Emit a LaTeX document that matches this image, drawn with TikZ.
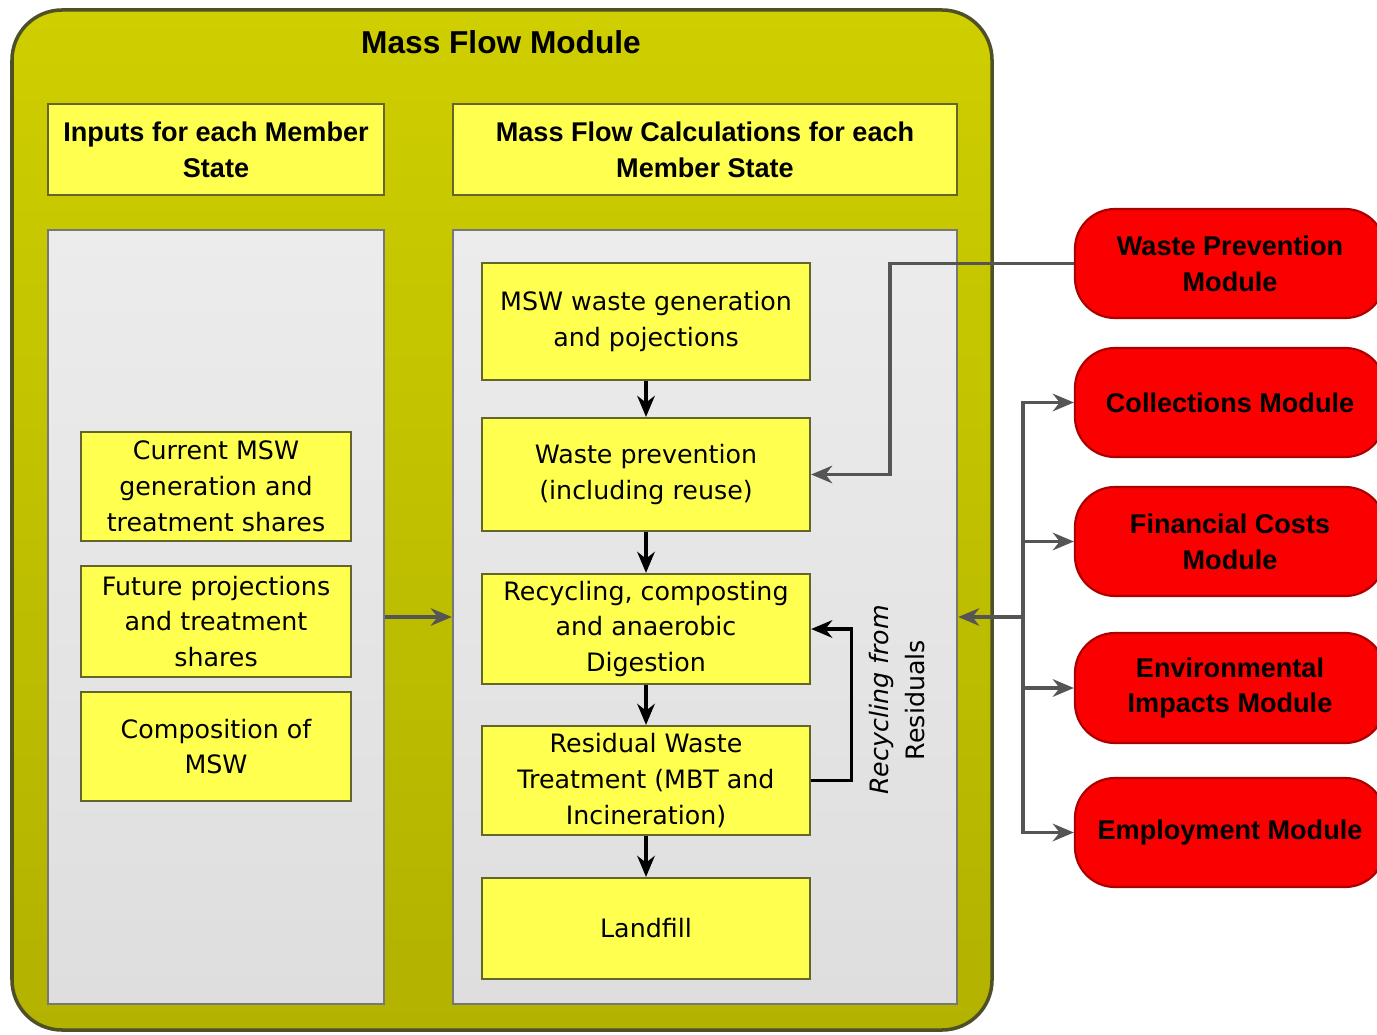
\documentclass[tikz,border=0pt]{standalone}
\usepackage{fontspec}
\setmainfont{DejaVu Sans}
\newfontfamily\hdrfont{Liberation Sans}
\usepackage{xcolor,tikz}
\usetikzlibrary{calc,positioning,arrows.meta}
\definecolor{olivetop}{RGB}{206,206,0}
\definecolor{olivebot}{RGB}{178,178,0}
\definecolor{oliveedge}{RGB}{80,80,40}
\definecolor{panelgrey}{RGB}{236,236,236}
\definecolor{panelbot}{RGB}{222,222,222}
\definecolor{boxyellow}{RGB}{255,255,80}
\definecolor{boxedge}{RGB}{100,100,45}
\definecolor{modred}{RGB}{250,0,0}
\definecolor{rededge}{RGB}{170,0,0}
\definecolor{linegrey}{RGB}{85,85,85}
\tikzset{>={Stealth[length=6pt,width=5pt]}}
\tikzset{
  bodytext/.style={font=\fontsize{7.2}{10.2}\selectfont, align=center},
  hdrtext/.style={font=\hdrfont\bfseries\fontsize{7.7}{10.2}\selectfont, align=center},
  ybox/.style={draw=boxedge, line width=0.6pt, fill=boxyellow, inner sep=0pt},
  panel/.style={draw=linegrey!80, line width=0.6pt, top color=panelgrey, bottom color=panelbot, inner sep=0pt},
  modbox/.style={hdrtext, draw=rededge, line width=0.6pt, fill=modred, rounded corners=0.4cm, inner sep=0pt, minimum width=3.1cm, minimum height=1.09cm},
  flow/.style={line width=0.9pt, ->},
  link/.style={line width=0.9pt, draw=linegrey, ->}
}
\begin{document}
\begin{tikzpicture}[x=0.01cm,y=-0.01cm]
\useasboundingbox (0,0) rectangle (1377,1034);
% outer module
\draw[line width=1pt, draw=oliveedge, top color=olivetop, bottom color=olivebot, rounded corners=0.5cm] (12,10) rectangle (992,1030);
\node[hdrtext, font=\hdrfont\bfseries\fontsize{9}{11}\selectfont] (title) at (501,42) {Mass Flow Module};
%%%% headers and panels
\node[ybox, hdrtext, minimum width=3.36cm, minimum height=0.91cm] (inhdr) at (216,149.5) {Inputs for each Member\\State};
\node[ybox, hdrtext, minimum width=5.04cm, minimum height=0.91cm] (calchdr) at (705,149.5) {Mass Flow Calculations for each\\Member State};
\node[panel, minimum width=3.36cm, minimum height=7.74cm] (inpanel) at (216,617) {};
\node[panel, minimum width=5.04cm, minimum height=7.74cm] (calcpanel) at (705,617) {};
%%%% inputs
\node[ybox, bodytext, minimum width=2.7cm, minimum height=1.09cm] (current) at (216,486.5) {Current MSW\\generation and\\treatment shares};
\node[ybox, bodytext, minimum width=2.7cm, minimum height=1.11cm] (future) at (216,621.5) {Future projections\\and treatment\\shares};
\node[ybox, bodytext, minimum width=2.7cm, minimum height=1.09cm] (compo) at (216,746.5) {Composition of\\MSW};
%%%% calculation chain
\node[ybox, bodytext, minimum width=3.28cm, minimum height=1.17cm] (gen) at (646,321.5) {MSW waste generation\\and pojections};
\node[ybox, bodytext, minimum width=3.28cm, minimum height=1.13cm] (prev) at (646,474.5) {Waste prevention\\(including reuse)};
\node[ybox, bodytext, minimum width=3.28cm, minimum height=1.10cm] (recyc) at (646,629) {Recycling, composting\\and anaerobic\\Digestion};
\node[ybox, bodytext, minimum width=3.28cm, minimum height=1.09cm] (resid) at (646,780.5) {Residual Waste\\Treatment (MBT and\\Incineration)};
\node[ybox, bodytext, minimum width=3.28cm, minimum height=1.01cm] (landfill) at (646,928.5) {Landfill};
\draw[flow] (gen) -- (prev);
\draw[flow] (prev) -- (recyc);
\draw[flow] (recyc) -- (resid);
\draw[flow] (resid) -- (landfill);
\draw[flow] (resid.east) -- ++(40,0) |- (recyc.east);
\node[bodytext, rotate=90] (recytxt) at (897,700) {\itshape Recycling from\\Residuals};
\draw[link] (inpanel.east) -- (calcpanel.west);
%%%% other modules
\node[modbox] (wpm) at (1230,263.5) {Waste Prevention\\Module};
\node[modbox] (col) at (1230,402.5) {Collections Module};
\node[modbox] (fin) at (1230,541.5) {Financial Costs\\Module};
\node[modbox, minimum height=1.10cm] (env) at (1230,688) {Environmental\\Impacts Module};
\node[modbox] (emp) at (1230,832.5) {Employment Module};
\coordinate (wpturn) at (890,263.5);
\draw[link] (wpm.west) -- (wpturn) |- (prev.east);
\coordinate (bus) at (1023,617);
\draw[link] (bus) -- (calcpanel.east);
\foreach \m in {col,fin,env,emp}
  \draw[link] (bus) |- (\m.west);
\end{tikzpicture}
\end{document}
